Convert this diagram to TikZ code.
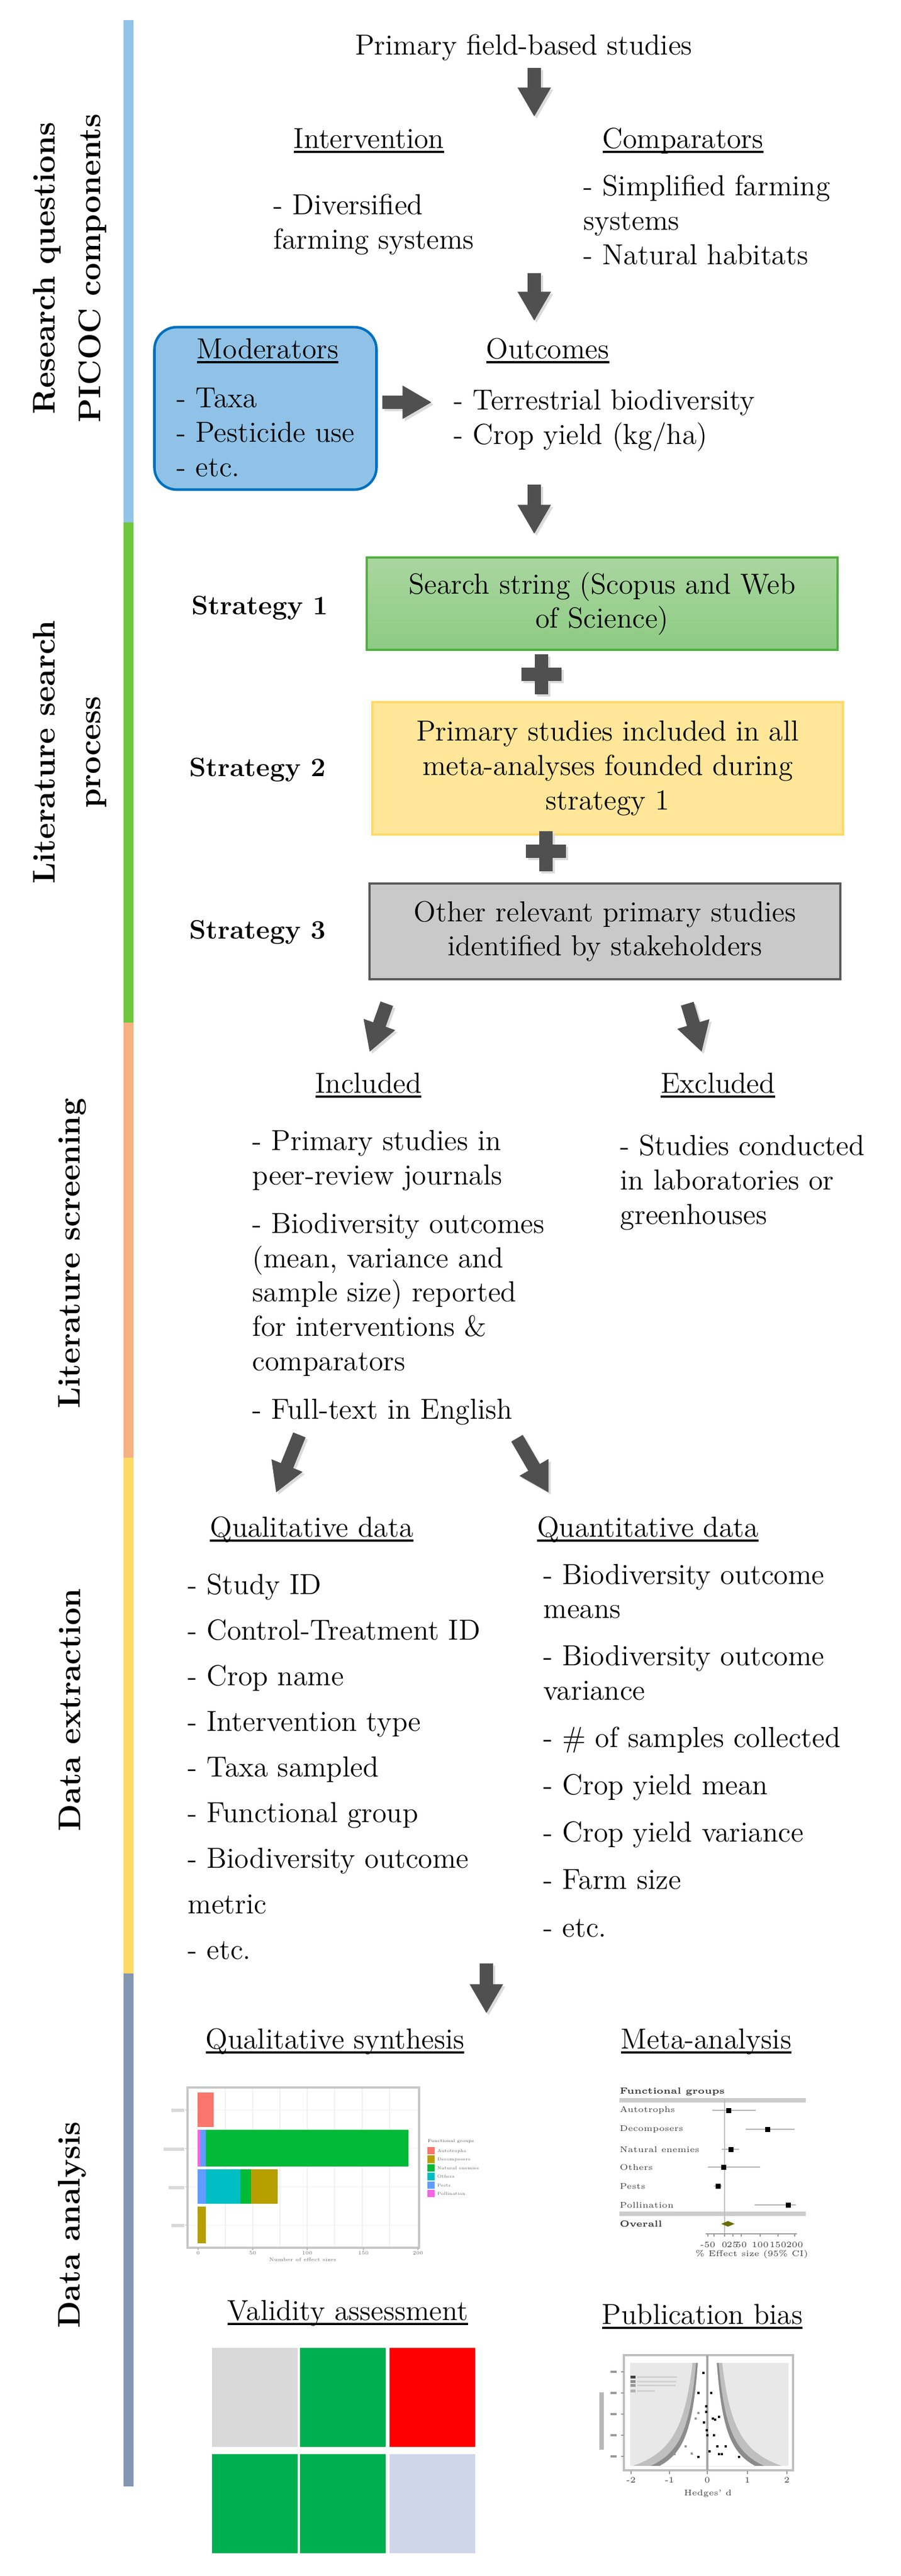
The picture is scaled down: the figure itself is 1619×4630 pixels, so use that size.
\documentclass[tikz,border=0pt]{standalone}
\usepackage{fontspec}
\usetikzlibrary{arrows.meta}

\definecolor{barblue}{HTML}{92C4E8}
\definecolor{bargreen}{HTML}{6FC73D}
\definecolor{barpeach}{HTML}{F6B183}
\definecolor{baryellow}{HTML}{FFD966}
\definecolor{barslate}{HTML}{8497B0}
\definecolor{arrowgray}{HTML}{505050}
\definecolor{modfill}{HTML}{8FC2E6}
\definecolor{moddraw}{HTML}{0070C0}
\definecolor{sonetop}{HTML}{AAD6A0}
\definecolor{sonebot}{HTML}{8DCB83}
\definecolor{sonedraw}{HTML}{50B040}
\definecolor{stwofill}{HTML}{FFE699}
\definecolor{stwodraw}{HTML}{FFD966}
\definecolor{sthreefill}{HTML}{C9C9C9}
\definecolor{sthreedraw}{HTML}{595959}
\definecolor{fgauto}{HTML}{F8766D}
\definecolor{fgdeco}{HTML}{B79F00}
\definecolor{fgnat}{HTML}{00BA38}
\definecolor{fgoth}{HTML}{00BFC4}
\definecolor{fgpest}{HTML}{619CFF}
\definecolor{fgpoll}{HTML}{F564E3}
\definecolor{vgray}{HTML}{D9D9D9}
\definecolor{vgreen}{HTML}{00B050}
\definecolor{vred}{HTML}{FF0000}
\definecolor{vlav}{HTML}{CFD5EA}
\definecolor{overallcol}{HTML}{6B6B00}

\newcommand\ulhead[1]{\setbox0=\hbox{#1}\rlap{\rule[-2.6pt]{\wd0}{1.2pt}}\box0}

\begin{document}
\begin{tikzpicture}
  [x=0.1mm,y=-0.1mm,
   every node/.style={inner sep=0pt,font=\fontsize{14.8}{17.6}\selectfont},
   head/.style={anchor=base},
   items/.style={anchor=base west,align=left},% anchored at the last line
   side/.style={rotate=90,align=center,font=\fontsize{16}{23.3}\selectfont\bfseries},
   strat/.style={anchor=base,font=\fontsize{13.6}{16}\selectfont\bfseries},
   srcbox/.style={draw,line width=1.1pt,align=center,minimum width=84.6mm},
   modbox/.style={draw=moddraw,fill=modfill,line width=1.3pt,rounded corners=4mm,
     minimum width=39.9mm,minimum height=29.2mm},
   blockarrow/.style={draw=arrowgray,line width=6.8pt,-{Triangle[width=16pt,length=15pt]}},
   arrowshadow/.style={draw=black!14,line width=6.8pt,-{Triangle[width=16pt,length=15pt]}},
   barlab/.style={font=\fontsize{2.6}{3}\selectfont,text=black!55},
   barkey/.style={font=\fontsize{2.2}{2.6}\selectfont,text=black!60},
   flab/.style={anchor=west,font=\fontsize{4.2}{5}\selectfont,text=black!75},
   fhead/.style={anchor=west,font=\fontsize{4.5}{5.4}\selectfont\bfseries,text=black!80},
   smudge/.style={fill=black!22}]

  \fill[white] (0,0) rectangle (1619,4630);
  \path[use as bounding box] (0,0) rectangle (1619,4630);

  % coloured side bar and stage labels
  \foreach \ya/\yb/\cc in {36/939/barblue,939/1838/bargreen,1838/2620/barpeach,2620/3547/baryellow,3547/4469/barslate}
    \fill[\cc] (222,\ya) rectangle (240,\yb);

  \node[side] (sl1) at (125,482) {Research questions\\PICOC components};
  \node[side] (sl2) at (125,1352) {Literature search\\process};
  \node[side] (sl3) at (130,2253) {Literature screening};
  \node[side] (sl4) at (125,3073) {Data extraction};
  \node[side] (sl5) at (130,3999) {Data analysis};

  % research questions
  \node[head] (prim) at (941,98) {Primary field-based studies};
  \node[head] (intv) at (663,266) {\ulhead{Intervention}};
  \node[head] (comp) at (1227,266) {\ulhead{Comparators}};
  \node[items] (intvl) at (491,447) {- Diversified\\farming systems};
  \node[items] (compl) at (1048,475) {- Simplified farming\\systems\\- Natural habitats};

  \node[modbox] (mod) at (477,734) {};
  \node[head] (modh) at (481,644) {\ulhead{Moderators}};
  \node[items] (modl) at (317,856) {- Taxa\\- Pesticide use\\- etc.};
  \node[head] (outh) at (984,644) {\ulhead{Outcomes}};
  \node[items] (outl) at (815,798) {- Terrestrial biodiversity\\- Crop yield (kg/ha)};

  % literature search
  \node[srcbox,minimum height=16.6mm,top color=sonetop,bottom color=sonebot,draw=sonedraw] (str1) at (1082,1085)
    {Search string (Scopus and Web\\of Science)};
  \node[srcbox,minimum height=23.8mm,fill=stwofill,draw=stwodraw] (str2) at (1092,1381)
    {Primary studies included in all\\meta-analyses founded during\\strategy 1};
  \node[srcbox,minimum height=17.2mm,fill=sthreefill,draw=sthreedraw] (str3) at (1087,1674)
    {Other relevant primary studies\\identified by stakeholders};
  \node[strat] (lab1) at (467,1104) {Strategy 1};
  \node[strat] (lab2) at (463,1395) {Strategy 2};
  \node[strat] (lab3) at (463,1687) {Strategy 3};

  \foreach \px/\py in {973/1212,981/1530}
  {
    \begin{scope}[shift={(\px,\py)}]
      \fill[black!14] (-8,-32) rectangle (16,40);
      \fill[black!14] (-32,-8) rectangle (40,16);
      \fill[arrowgray] (-12,-36) rectangle (12,36);
      \fill[arrowgray] (-36,-12) rectangle (36,12);
    \end{scope}
  }

  % screening
  \node[head] (inc) at (662,1964) {\ulhead{Included}};
  \node[head] (exc) at (1290,1964) {\ulhead{Excluded}};
  \node[items] (incl) at (453,2550) {- Primary studies in\\peer-review journals\\[7pt]- Biodiversity outcomes\\(mean, variance and\\sample size) reported\\for interventions \&\\comparators\\[7pt]- Full-text in English};
  \node[items] (excl) at (1114,2200) {- Studies conducted\\in laboratories or\\greenhouses};

  % data extraction
  \node[head] (qual) at (560,2762) {\ulhead{Qualitative data}};
  \node[head] (quan) at (1164,2762) {\ulhead{Quantitative data}};
  \node[items] (quall) at (337,3521) {- Study ID\\[5.7pt]- Control-Treatment ID\\[5.7pt]- Crop name\\[5.7pt]- Intervention type\\[5.7pt]- Taxa sampled\\[5.7pt]- Functional group\\[5.7pt]- Biodiversity outcome\\[5.7pt]metric\\[5.7pt]- etc.};
  \node[items] (quanl) at (976,3481) {- Biodiversity outcome\\means\\[6.6pt]- Biodiversity outcome\\variance\\[6.6pt]- \# of samples collected\\[6.6pt]- Crop yield mean\\[6.6pt]- Crop yield variance\\[6.6pt]- Farm size\\[6.6pt]- etc.};

  % block arrows
  \coordinate (a1s) at (960,122);  \coordinate (a1e) at (960,210);
  \coordinate (a2s) at (960,491);  \coordinate (a2e) at (960,577);
  \coordinate (a3s) at (687,723);  \coordinate (a3e) at (776,723);
  \coordinate (a4s) at (960,871);  \coordinate (a4e) at (960,960);
  \coordinate (a5s) at (695,1804); \coordinate (a5e) at (664,1891);
  \coordinate (a6s) at (1235,1804); \coordinate (a6e) at (1261,1891);
  \coordinate (a7s) at (538,2579); \coordinate (a7e) at (496,2683);
  \coordinate (a8s) at (929,2585); \coordinate (a8e) at (986,2683);
  \coordinate (a9s) at (874,3529); \coordinate (a9e) at (874,3619);

  \foreach \from/\to in {a1s/a1e,a2s/a2e,a3s/a3e,a4s/a4e,a5s/a5e,a6s/a6e,a7s/a7e,a8s/a8e,a9s/a9e}
  {
    \draw[arrowshadow] ([shift={(4,4)}]\from) -- ([shift={(4,4)}]\to);
    \draw[blockarrow] (\from) -- (\to);
  }

  % data analysis
  \node[head] (qsyn) at (602,3682) {\ulhead{Qualitative synthesis}};
  \node[head] (meta) at (1269,3682) {\ulhead{Meta-analysis}};
  \node[head] (vali) at (625,4170) {\ulhead{Validity assessment}};
  \node[head] (pubb) at (1262,4177) {\ulhead{Publication bias}};

  % bar chart
  \foreach \gx in {405,454,503,552,601,651,700}
    \draw[black!6,line width=0.3pt] (\gx,3754) -- (\gx,4038);
  \foreach \gy in {3792,3861,3930,3999}
  {
    \draw[black!6,line width=0.3pt] (339,\gy) -- (751,\gy);
    \draw[black!30,line width=0.3pt] (333,\gy) -- (337,\gy);
  }
  \draw[black!22,line width=0.9pt] (337,3752) rectangle (753,4040);
  \fill[fgauto] (355,3761) rectangle (384,3823);
  \fill[fgpoll] (355,3828) rectangle (360,3894);
  \fill[fgpest] (360,3828) rectangle (370,3894);
  \fill[fgnat] (370,3828) rectangle (734,3894);
  \fill[fgpest] (355,3899) rectangle (370,3961);
  \fill[fgoth] (370,3899) rectangle (432,3961);
  \fill[fgnat] (432,3899) rectangle (451,3961);
  \fill[fgdeco] (451,3899) rectangle (499,3961);
  \fill[fgdeco] (355,3966) rectangle (370,4032);
  \foreach \yy/\ww in {3793/23,3863/37,3932/28,4000/23}
    \fill[smudge,black!15] ({331-\ww},{\yy-3}) rectangle (331,{\yy+3});
  \foreach \tx/\tl [count=\k] in {356/0,454/50,552/100,653/150,751/200}
  {
    \draw[black!30,line width=0.3pt] (\tx,4040) -- (\tx,4044);
    \node[barlab] (bt\k) at (\tx,4050) {\tl};
  }
  \node[barlab] (bxl) at (544,4061) {Number of effect sizes};
  \node[barkey,anchor=west,text=black!65] (bleg) at (768,3849) {Functional groups};
  \foreach \cc/\nm [count=\k] in {fgauto/Autotrophs,fgdeco/Decomposers,fgnat/Natural enemies,fgoth/Others,fgpest/Pests,fgpoll/Pollination}
  {
    \fill[\cc] (768,{3859+15.4*(\k-1)}) rectangle ++(13,13.4);
    \node[barkey,anchor=west] (bk\k) at (785,{3866+15.4*(\k-1)}) {\nm};
  }

  % forest plot
  \node[fhead] (fgt) at (1113,3760) {Functional groups};
  \fill[black!20] (1113,3771) rectangle (1448,3779);
  \fill[black!20] (1113,3975) rectangle (1448,3983);
  \draw[black!25,line width=0.6pt] (1302,3773) -- (1302,4018);
  \foreach \nm/\yy/\est/\lo/\hi [count=\k] in {Autotrophs/3793/1309/1280/1358,Decomposers/3827/1379/1340/1428,Natural enemies/3863/1313/1297/1328,Others/3895/1300/1272/1366,Pests/3929/1290/1283/1297,Pollination/3963/1416/1356/1430}
  {
    \node[flab] (fr\k) at (1113,\yy) {\nm};
    \draw[black!30,line width=0.5pt] (\lo,\yy) -- (\hi,\yy);
    \fill ({\est-4.5},{\yy-4.5}) rectangle ({\est+4.5},{\yy+4.5});
  }
  \node[fhead] (fov) at (1113,3997) {Overall};
  \fill[overallcol] (1296,3997) -- (1308,3992) -- (1320,3997) -- (1308,4002) -- cycle;
  \draw[black!40,line width=0.4pt] (1268,4015) -- (1432,4015);
  \foreach \tx in {1272,1283,1302,1317,1332,1366,1398,1428}
    \draw[black!40,line width=0.4pt] (\tx,4015) -- (\tx,4020);
  \foreach \tx/\tl [count=\k] in {1272/-50,1302/0,1316/25,1332/50,1366/100,1398/150,1428/200}
    \node[flab,anchor=center] (ft\k) at (\tx,4035) {\tl};
  \node[flab,anchor=center] (fxl) at (1351,4052) {\% Effect size (95\% CI)};

  % funnel plot
  \draw[black!25,line width=0.9pt] (1121,4233) rectangle (1425,4440);
  \begin{scope}
    \clip (1132,4247) rectangle (1417,4432);
    \fill[black!9] (1132,4247) rectangle (1417,4432);
    \foreach \zz/\cc in {2.576/black!25,1.96/black!45,1.645/white}
      \fill[\cc] plot[domain=4247:4432,samples=40,variable=\t] ({1271-2387*\zz/(4478-\t)},\t)
        -- plot[domain=4432:4247,samples=40,variable=\t] ({1271+2387*\zz/(4478-\t)},\t) -- cycle;
  \end{scope}
  \draw[black!35,line width=1pt] (1271,4233) -- (1271,4440);
  \foreach \fx/\fy in {1264/4265,1255/4301,1278/4301,1269/4325,1269/4335,1281/4347,1292/4344,1285/4349,1265/4354,1270/4368,1271/4377,1283/4377,1289/4397,1304/4397,1275/4406,1292/4411,1297/4411,1255/4416,1328/4416}
    \fill ({\fx-2.2},{\fy-2.2}) rectangle ({\fx+2.2},{\fy+2.2});
  \foreach \fx/\fy in {1255/4337,1212/4411,1232/4397,1243/4410,1250/4347}
    \fill[black!40] ({\fx-2.2},{\fy-2.2}) rectangle ({\fx+2.2},{\fy+2.2});
  \foreach \ty in {4263,4301,4339,4377,4415}
  {
    \draw[black!40,line width=0.4pt] (1116,\ty) -- (1121,\ty);
    \fill[smudge,black!40] (1097,{\ty-2}) rectangle (1108,{\ty+2});
  }
  \foreach \cc/\yy/\ww in {black!75/4270/72,black!45/4278/70,black!40/4285/69,black!30/4295/32}
  {
    \fill[\cc] (1133,\yy) rectangle (1142,{\yy+5});
    \fill[smudge,black!18] (1145,{\yy+1}) rectangle ({1145+\ww},{\yy+4});
  }
  \fill[smudge,black!28] (1077,4300) rectangle (1085,4403);
  \foreach \tx/\tl [count=\k] in {1134/-2,1203/-1,1271/0,1343/1,1414/2}
  {
    \draw[black!40,line width=0.4pt] (\tx,4441) -- (\tx,4447);
    \node[flab,anchor=center] (pt\k) at (\tx,4458) {\tl};
  }
  \node[flab,anchor=center] (pxl) at (1272,4482) {Hedges' d};

  % validity assessment
  \foreach \cx/\cy/\cc in {381/4220/vgray,539/4220/vgreen,700/4220/vred,381/4411/vgreen,539/4411/vgreen,700/4411/vlav}
    \fill[\cc] (\cx,\cy) rectangle ++(154,178);

\end{tikzpicture}
\end{document}
